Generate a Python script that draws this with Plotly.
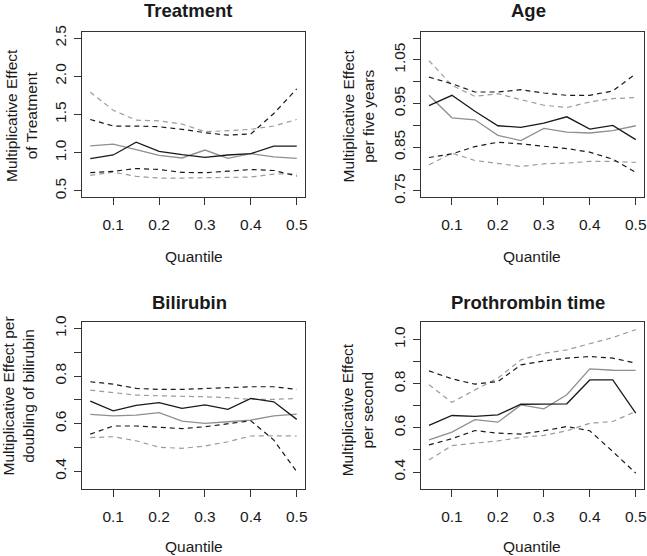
import plotly.graph_objects as go

# ---------------- data ----------------
quantile = [0.05, 0.10, 0.15, 0.20, 0.25, 0.30, 0.35, 0.40, 0.45, 0.50]

# Treatment
treat_est_a = [0.922, 0.970, 1.138, 1.017, 0.974, 0.939, 0.970, 0.987, 1.086, 1.086]
treat_est_b = [1.090, 1.112, 1.039, 0.965, 0.931, 1.035, 0.926, 0.987, 0.944, 0.926]
treat_up_a = [1.435, 1.349, 1.349, 1.340, 1.306, 1.262, 1.229, 1.245, 1.513, 1.836]
treat_lo_a = [0.738, 0.755, 0.793, 0.780, 0.742, 0.738, 0.758, 0.780, 0.767, 0.695]
treat_up_b = [1.792, 1.556, 1.426, 1.417, 1.375, 1.275, 1.288, 1.306, 1.349, 1.435]
treat_lo_b = [0.703, 0.746, 0.690, 0.668, 0.668, 0.672, 0.672, 0.681, 0.720, 0.724]

# Age
age_est_a = [0.9455, 0.969, 0.9326, 0.8992, 0.8955, 0.9053, 0.9197, 0.8917, 0.900, 0.8674]
age_est_b = [0.969, 0.9174, 0.9129, 0.8773, 0.8652, 0.8932, 0.8848, 0.8826, 0.8879, 0.8992]
age_up_a = [1.0106, 0.9955, 0.9765, 0.9765, 0.9818, 0.9742, 0.969, 0.969, 0.9788, 1.0182]
age_lo_a = [0.8265, 0.8348, 0.8515, 0.8614, 0.8576, 0.853, 0.847, 0.8386, 0.8227, 0.7924]
age_up_b = [1.0485, 0.9917, 0.9667, 0.9727, 0.9591, 0.9462, 0.9409, 0.9538, 0.9614, 0.9636]
age_lo_b = [0.8098, 0.8364, 0.8197, 0.8136, 0.806, 0.8121, 0.8136, 0.8174, 0.8174, 0.8152]

# Bilirubin
bili_est_a = [0.695, 0.654, 0.677, 0.688, 0.664, 0.679, 0.660, 0.706, 0.692, 0.618]
bili_est_b = [0.639, 0.633, 0.636, 0.646, 0.611, 0.601, 0.608, 0.615, 0.633, 0.640]
bili_up_a = [0.776, 0.766, 0.748, 0.744, 0.744, 0.748, 0.751, 0.755, 0.755, 0.744]
bili_lo_a = [0.556, 0.590, 0.590, 0.584, 0.579, 0.587, 0.601, 0.612, 0.531, 0.398]
bili_up_b = [0.741, 0.730, 0.720, 0.717, 0.716, 0.713, 0.709, 0.702, 0.702, 0.706]
bili_lo_b = [0.541, 0.545, 0.528, 0.501, 0.496, 0.506, 0.524, 0.548, 0.549, 0.548]

# Prothrombin time
proth_est_a = [0.611, 0.656, 0.652, 0.659, 0.707, 0.707, 0.709, 0.817, 0.817, 0.667]
proth_est_b = [0.546, 0.581, 0.637, 0.626, 0.704, 0.686, 0.750, 0.867, 0.861, 0.860]
proth_up_a = [0.858, 0.822, 0.798, 0.810, 0.885, 0.903, 0.916, 0.923, 0.916, 0.893]
proth_lo_a = [0.523, 0.551, 0.588, 0.576, 0.572, 0.587, 0.606, 0.587, 0.493, 0.395]
proth_up_b = [0.795, 0.716, 0.772, 0.825, 0.908, 0.938, 0.953, 0.980, 1.009, 1.045]
proth_lo_b = [0.455, 0.520, 0.531, 0.541, 0.557, 0.566, 0.587, 0.621, 0.629, 0.674]

panel_titles = ["Treatment", "Age", "Bilirubin", "Prothrombin time"]
y_titles = ["Multiplicative Effect<br>of Treatment",
            "Multiplicative Effect<br>per five years",
            "Multiplicative Effect per<br>doubling of bilirubin",
            "Multiplicative Effect<br>per second"]
x_title = "Quantile"

x_tickvals = [0.1, 0.2, 0.3, 0.4, 0.5]
x_ticktext = ["0.1", "0.2", "0.3", "0.4", "0.5"]

ylims = [(0.5, 2.5), (0.75, 1.10), (0.35, 1.0), (0.35, 1.05)]
y_tickvals = [
    [0.5, 1.0, 1.5, 2.0, 2.5],
    [0.75, 0.80, 0.85, 0.90, 0.95, 1.00, 1.05, 1.10],
    [0.4, 0.5, 0.6, 0.7, 0.8, 0.9, 1.0],
    [0.4, 0.5, 0.6, 0.7, 0.8, 0.9, 1.0],
]
y_ticktext = [
    ["0.5", "1.0", "1.5", "2.0", "2.5"],
    ["0.75", "", "0.85", "", "0.95", "", "1.05", ""],
    ["0.4", "", "0.6", "", "0.8", "", "1.0"],
    ["0.4", "", "0.6", "", "0.8", "", "1.0"],
]

panels = [
    (treat_est_a, treat_est_b, treat_up_a, treat_lo_a, treat_up_b, treat_lo_b),
    (age_est_a, age_est_b, age_up_a, age_lo_a, age_up_b, age_lo_b),
    (bili_est_a, bili_est_b, bili_up_a, bili_lo_a, bili_up_b, bili_lo_b),
    (proth_est_a, proth_est_b, proth_up_a, proth_lo_a, proth_up_b, proth_lo_b),
]

# ---------------- style ----------------
W, H = 647, 556
FONT = "Liberation Sans, Arial, Helvetica, sans-serif"
BLACK = "#1a1a1a"
GRAY = "#8f8f8f"
GRAY_D = "#9c9c9c"
DASH = "5px,4px"
FS = 15.5

# plot boxes in pixels (left, right, top, bottom)
boxes = [(82, 305, 32, 197), (420.7, 644, 32, 197),
         (82, 305, 322.3, 489.3), (420.7, 644, 322.3, 489.3)]
title_pos = [(188, 10.5), (528.3, 11), (189, 302), (528, 302)]
ytitle_pos = [(21, 116), (357.5, 116), (18, 396.5), (357.3, 410)]

fig = go.Figure()


def px2paper_x(v):
    return v / W


def px2paper_y(v):
    return 1 - v / H


def ext(lo, hi):
    s = hi - lo
    return [lo - 0.04 * s, hi + 0.04 * s]


xr = ext(min(quantile), max(quantile))

annotations = []
for i, (ea, eb, ua, la, ub, lb) in enumerate(panels):
    n = "" if i == 0 else str(i + 1)
    xa, ya = "x" + n, "y" + n
    styles = [
        (eb, GRAY, "solid", 1.3),
        (ub, GRAY_D, DASH, 1.2),
        (lb, GRAY_D, DASH, 1.2),
        (ea, BLACK, "solid", 1.3),
        (ua, BLACK, DASH, 1.2),
        (la, BLACK, DASH, 1.2),
    ]
    for vals, col, dash, w in styles:
        fig.add_trace(go.Scatter(x=quantile, y=vals, mode="lines",
                                 line=dict(color=col, dash=dash, width=w),
                                 xaxis=xa, yaxis=ya, showlegend=False,
                                 hoverinfo="skip"))
    l, r, t, b = boxes[i]
    axis_common = dict(showline=True, mirror=True, linecolor="#333333", linewidth=1,
                       ticks="outside", ticklen=7, tickcolor="#333333", tickwidth=1,
                       showgrid=False, zeroline=False, fixedrange=True,
                       ticklabeloverflow="allow", automargin=False,
                       tickfont=dict(family=FONT, size=FS, color=BLACK))
    fig.update_layout(**{
        ("xaxis" + n): dict(domain=[px2paper_x(l), px2paper_x(r)], range=xr,
                            anchor=ya, tickmode="array", tickvals=x_tickvals,
                            ticktext=x_ticktext, ticklabelstandoff=6, **axis_common),
        ("yaxis" + n): dict(domain=[px2paper_y(b), px2paper_y(t)],
                            range=ext(*ylims[i]), anchor=xa, tickmode="array",
                            tickvals=y_tickvals[i], ticktext=y_ticktext[i],
                            tickangle=-90, ticklabelstandoff=2, **axis_common),
    })
    tx, ty = title_pos[i]
    annotations.append(dict(text="<b>" + panel_titles[i] + "</b>", x=px2paper_x(tx),
                            y=px2paper_y(ty), xref="paper", yref="paper",
                            xanchor="center", yanchor="middle", showarrow=False,
                            font=dict(family=FONT, size=18.5, color=BLACK)))
    yx, yy = ytitle_pos[i]
    annotations.append(dict(text=y_titles[i], x=px2paper_x(yx), y=px2paper_y(yy),
                            xref="paper", yref="paper", xanchor="center",
                            yanchor="middle", textangle=-90, showarrow=False,
                            font=dict(family=FONT, size=FS, color=BLACK)))
    qy = 256 if i < 2 else 546.5
    annotations.append(dict(text=x_title, x=px2paper_x((l + r) / 2), y=px2paper_y(qy),
                            xref="paper", yref="paper", xanchor="center",
                            yanchor="middle", showarrow=False,
                            font=dict(family=FONT, size=FS, color=BLACK)))

fig.update_layout(width=W, height=H,
                  margin=dict(l=0, r=0, t=0, b=0, pad=0, autoexpand=False),
                  paper_bgcolor="white", plot_bgcolor="white",
                  annotations=annotations, showlegend=False,
                  font=dict(family=FONT, size=FS, color=BLACK))

fig.write_html("out.html", config={"displayModeBar": False},
               post_script="document.body.style.margin='0px';"
                           "document.body.style.overflow='hidden';")
